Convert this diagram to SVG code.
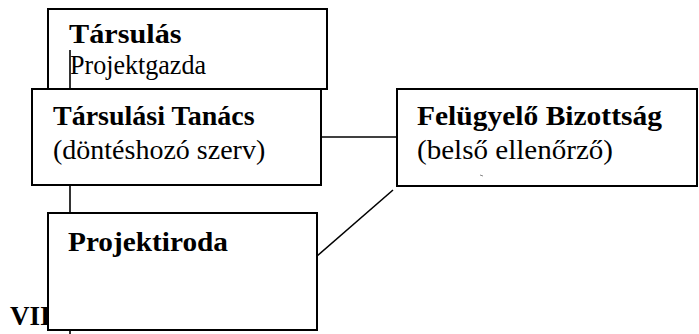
<svg xmlns="http://www.w3.org/2000/svg" width="699" height="334" viewBox="0 0 699 334">
<style>
.box{fill:#fff;stroke:#000;stroke-width:2}
.ln{stroke:#000;stroke-width:1.6;fill:none}
text{fill:#000;font-size:27px;font-family:'Liberation Serif','Times New Roman',serif}
.b{font-weight:bold}
</style>
<rect width="699" height="334" fill="#fff"/>
<g id="tarsulas">
<rect class="box" x="48" y="9" width="279" height="80"/>
<text class="b" x="69" y="43" transform="translate(69 43) scale(1.12 1) translate(-69 -43)">Társulás</text>
<text x="70" y="74" font-size="24" textLength="136" lengthAdjust="spacingAndGlyphs">Projektgazda</text>
</g>
<g id="connectors">
<line class="ln" x1="70" y1="50" x2="70" y2="334"/>
<line class="ln" x1="321" y1="137" x2="397" y2="137"/>
<line class="ln" x1="317" y1="256" x2="393" y2="190"/>
</g>
<g id="tarsulasi-tanacs">
<rect class="box" x="32" y="89" width="289" height="96"/>
<text class="b" x="53" y="125" style="font-family:'Liberation Serif',serif;font-size:28px">Társulási Tanács</text>
<text x="53" y="159" style="font-family:'Liberation Serif',serif;font-size:28px">(döntéshozó szerv)</text>
</g>
<g id="felugyelo-bizottsag">
<rect class="box" x="397" y="89" width="300" height="97"/>
<text class="b" x="417" y="125" textLength="245" lengthAdjust="spacingAndGlyphs">Felügyelő Bizottság</text>
<text x="417" y="159" textLength="196" lengthAdjust="spacingAndGlyphs">(belső ellenőrző)</text>
<line x1="480" y1="175" x2="483" y2="176" stroke="#888" stroke-width="1"/>
</g>
<text class="b" x="10" y="325">VII</text>
<g id="projektiroda">
<rect class="box" x="48" y="213" width="269" height="117"/>
<text class="b" x="68" y="251" textLength="160" lengthAdjust="spacingAndGlyphs">Projektiroda</text>
</g>
</svg>
